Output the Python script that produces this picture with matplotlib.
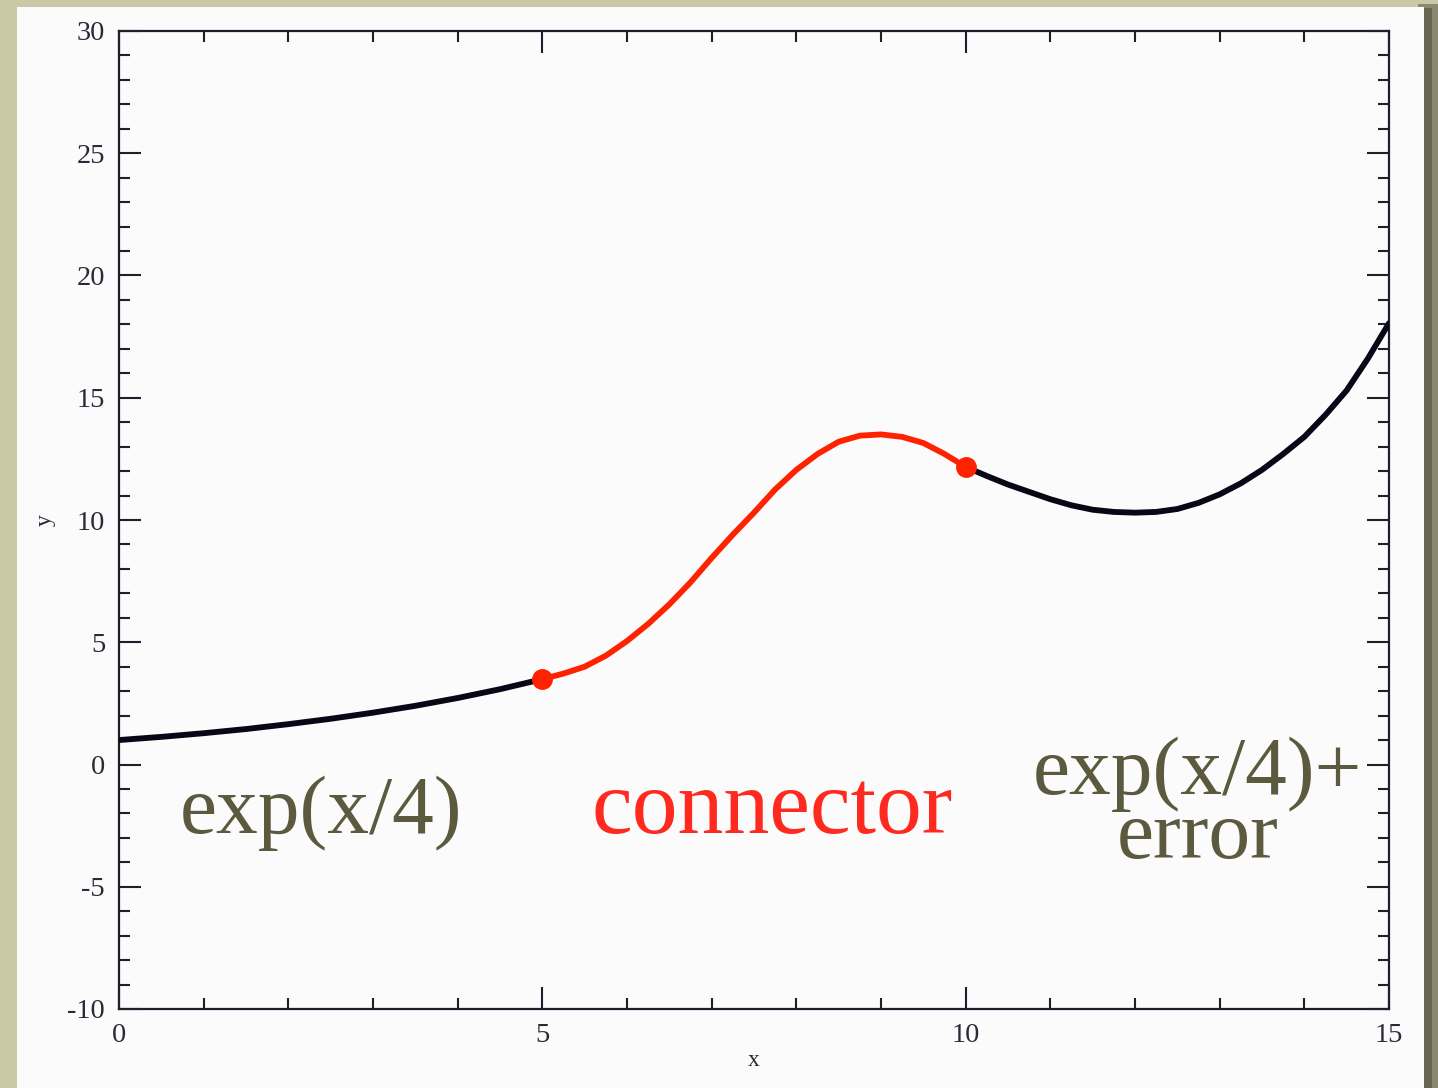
import matplotlib
matplotlib.use("Agg")
import matplotlib.pyplot as plt
from matplotlib.patches import Rectangle
from matplotlib.ticker import MultipleLocator

plt.rcParams["axes.unicode_minus"] = False

# ---- data ----
x_left = [0, 0.5, 1, 1.5, 2, 2.5, 3, 3.5, 4, 4.5, 5]
y_left = [1.0, 1.13, 1.28, 1.45, 1.65, 1.87, 2.12, 2.40, 2.72, 3.08, 3.49]

x_conn = [5.0, 5.25, 5.5, 5.75, 6.0, 6.25, 6.5, 6.75, 7.0, 7.25, 7.5, 7.75,
          8.0, 8.25, 8.5, 8.75, 9.0, 9.25, 9.5, 9.75, 10.0]
y_conn = [3.49, 3.72, 4.0, 4.45, 5.05, 5.75, 6.55, 7.45, 8.45, 9.4, 10.3, 11.25,
          12.05, 12.7, 13.2, 13.45, 13.5, 13.4, 13.15, 12.7, 12.17]

x_right = [10.0, 10.25, 10.5, 10.75, 11.0, 11.25, 11.5, 11.75, 12.0, 12.25, 12.5,
           12.75, 13.0, 13.25, 13.5, 13.75, 14.0, 14.25, 14.5, 14.75, 15.0]
y_right = [12.17, 11.8, 11.45, 11.15, 10.85, 10.6, 10.42, 10.33, 10.3, 10.33, 10.45,
           10.7, 11.05, 11.5, 12.05, 12.7, 13.4, 14.3, 15.3, 16.6, 18.05]

x_knots = [5, 10]
y_knots = [3.49, 12.17]

labels = ["exp(x/4)", "connector", "exp(x/4)+\nerror"]
label_x = [2.38, 7.71, 12.74]
label_y = [-2.8, -2.8, -3.82]
label_size = [60, 66, 60]

xticks = [0, 5, 10, 15]
yticks = [-10, -5, 0, 5, 10, 15, 20, 25, 30]

# ---- figure ----
W, H = 1438, 1088
fig = plt.figure(figsize=(W / 100, H / 100), dpi=100)
fig.patch.set_facecolor("#cbc8a5")

# right shadow
fig.patches.append(Rectangle((1418 / W, 0), 20 / W, 1 - 4 / H, transform=fig.transFigure,
                             facecolor="#8a886e", edgecolor="none", zorder=0))
fig.patches.append(Rectangle((1424 / W, 0), 8 / W, 1 - 8 / H, transform=fig.transFigure,
                             facecolor="#66654f", edgecolor="none", zorder=0))
# white panel
fig.patches.append(Rectangle((17 / W, 0), (1424 - 17) / W, 1 - 7 / H, transform=fig.transFigure,
                             facecolor="#fbfbfb", edgecolor="none", zorder=1))

ax = fig.add_axes([119 / W, 1 - 1009 / H, (1389 - 119) / W, (1009 - 31) / H])
ax.set_facecolor("#fbfbfb")
ax.set_zorder(2)

axis_col = "#1e1e2c"
ax.plot(x_left, y_left, color="#070716", lw=4.2, solid_capstyle="round",
        solid_joinstyle="round", zorder=3)
ax.plot(x_right, y_right, color="#070716", lw=4.2, solid_capstyle="round",
        solid_joinstyle="round", zorder=3)
ax.plot(x_conn, y_conn, color="#ff2200", lw=4.2, solid_capstyle="round",
        solid_joinstyle="round", zorder=4)
ax.plot(x_knots, y_knots, "o", color="#ff2200", ms=14, zorder=5)

ax.set_xlim(0, 15)
ax.set_ylim(-10, 30)
ax.set_xticks(xticks)
ax.set_yticks(yticks)
ax.xaxis.set_minor_locator(MultipleLocator(1))
ax.yaxis.set_minor_locator(MultipleLocator(1))

serif = ["Liberation Serif", "DejaVu Serif"]
ax.tick_params(which="both", direction="in", top=True, right=True, color=axis_col,
               width=1.5, labelsize=20.5, labelcolor="#2a2a38")
ax.tick_params(which="major", length=16, pad=10)
ax.tick_params(which="minor", length=8)
for lab in ax.get_xticklabels() + ax.get_yticklabels():
    lab.set_family(serif)
for s in ax.spines.values():
    s.set_color(axis_col)
    s.set_linewidth(1.6)

ax.set_xlabel("x", fontsize=17, family=serif, color="#2a2a38")
ax.set_ylabel("y", fontsize=17, family=serif, color="#2a2a38")
ax.xaxis.set_label_coords(0.5, -0.042)
ax.yaxis.set_label_coords(-0.05, 0.5)

colors = ["#5b5a3e", "#ff2a1f", "#5b5a3e"]
for t, tx, ty, c, fs in zip(labels, label_x, label_y, colors, label_size):
    ax.text(tx, ty, t, fontsize=fs, family=serif, color=c, ha="center", va="baseline",
            multialignment="center", linespacing=0.8, zorder=6)

fig.savefig("out.png", dpi=100, facecolor=fig.get_facecolor())
